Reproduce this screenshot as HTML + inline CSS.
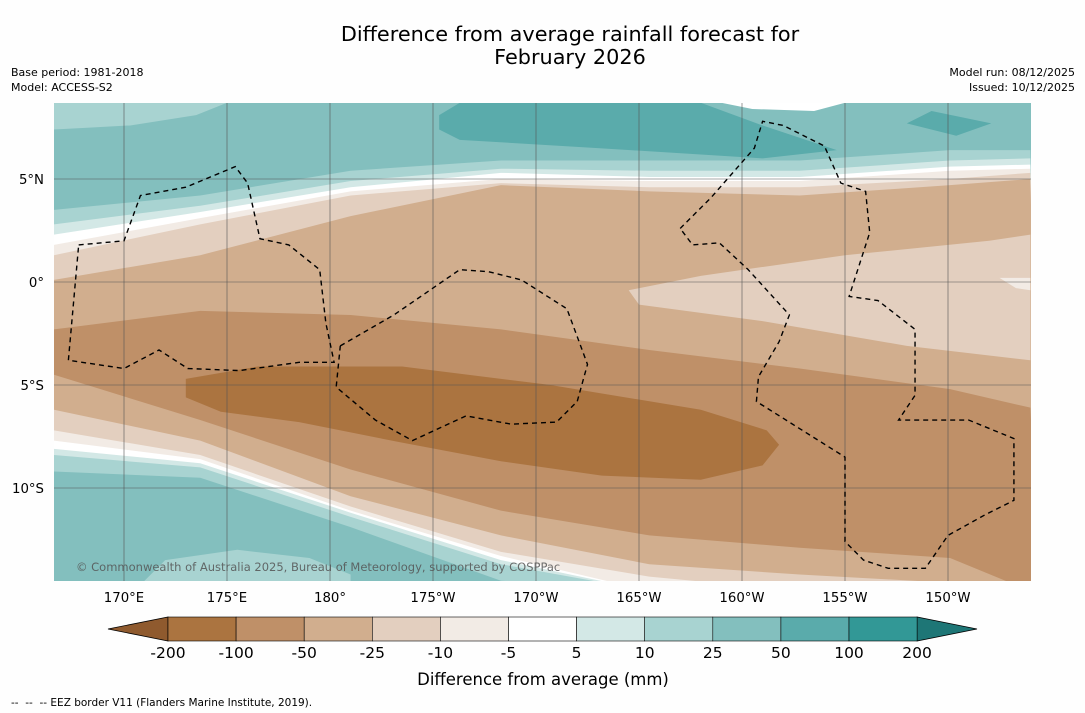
<!DOCTYPE html>
<html><head><meta charset="utf-8"><style>
body{margin:0;background:#fefefe;width:1085px;height:713px;overflow:hidden;font-family:"DejaVu Sans","Liberation Sans",sans-serif}
svg{position:absolute;left:0;top:0;font-family:"DejaVu Sans","Liberation Sans",sans-serif}
</style></head><body>
<svg width="1085" height="713" id="chart">
<text x="570" y="41" text-anchor="middle" font-size="20.8">Difference from average rainfall forecast for</text>
<text x="570" y="64" text-anchor="middle" font-size="20.8">February 2026</text>
<text x="11" y="76" font-size="11">Base period: 1981-2018</text>
<text x="11" y="91" font-size="11">Model: ACCESS-S2</text>
<text x="1075" y="76" font-size="11" text-anchor="end">Model run: 08/12/2025</text>
<text x="1075" y="91" font-size="11" text-anchor="end">Issued: 10/12/2025</text>
<defs><clipPath id="mc"><rect x="54" y="103" width="977" height="478"/></clipPath></defs>
<g id="map" clip-path="url(#mc)"></g>
<g id="axes"></g>
<g id="cbar"></g>
<text x="543" y="685" text-anchor="middle" font-size="16.5">Difference from average (mm)</text>
<text x="11" y="706" font-size="10.5">-- &nbsp;-- &nbsp;-- EEZ border V11 (Flanders Marine Institute, 2019).</text>
</svg>
<script>
const NS="http://www.w3.org/2000/svg";
// data
const lonCols=[166.6,173.7,181,188.3,195.5,202.8,210.1,214];
const bandColors=["#83bfbe","#a8d3d1","#d3e8e6","#ffffff","#f2ebe5","#e3cfbf","#d1ae8e","#bf9068","#d1ae8e","#e3cfbf","#f2ebe5","#ffffff","#d3e8e6","#a8d3d1","#83bfbe"];
const boundaries=[
[3.5,4.2,5.4,5.9,5.9,5.9,6.4,6.4],
[2.8,3.7,4.9,5.5,5.4,5.4,5.9,6.0],
[2.3,3.4,4.6,5.3,5.1,5.1,5.6,5.7],
[1.8,3.1,4.4,5.0,4.9,4.9,5.4,5.5],
[1.3,2.8,4.2,4.8,4.6,4.6,5.0,5.3],
[0.1,1.3,3.2,4.7,4.4,4.2,4.7,5.0],
[-2.3,-1.4,-1.6,-2.3,-3.3,-4.2,-5.2,-6.1],
[-4.5,-6.7,-9.1,-11.1,-12.3,-12.9,-13.4,-15],
[-6.2,-7.7,-10.4,-12.3,-13.7,-14.2,-14.6,-15],
[-7.2,-8.4,-10.9,-13.1,-14.3,-15,-15,-15],
[-7.7,-8.6,-11.1,-13.3,-15,-15,-15,-15],
[-8.1,-8.8,-11.2,-13.5,-15,-15,-15,-15],
[-8.4,-9,-11.4,-13.7,-15,-15,-15,-15],
[-9.2,-9.5,-11.9,-14.5,-15,-15,-15,-15]];
const xTicks=[170,175,180,185,190,195,200,205,210];
const xTickLabels=["170°E","175°E","180°","175°W","170°W","165°W","160°W","155°W","150°W"];
const yTicks=[5,0,-5,-10];
const yTickLabels=["5°N","0°","5°S","10°S"];
const cbColors=["#ab7440","#bf9068","#d1ae8e","#e3cfbf","#f2ebe5","#ffffff","#d3e8e6","#a8d3d1","#83bfbe","#5aabab","#329896"];
const cbLabels=["-200","-100","-50","-25","-10","-5","5","10","25","50","100","200"];
// axes functions
const X=l=>124+(l-170)*20.6;
const Y=l=>282-l*20.6;
function el(t,a,p){const e=document.createElementNS(NS,t);for(const k in a)e.setAttribute(k,a[k]);(p||document.getElementById('map')).appendChild(e);return e;}
el('rect',{x:54,y:103,width:977,height:478,fill:bandColors[0]});
for(let i=0;i<boundaries.length;i++){
  const top=boundaries[i];
  let pts=top.map((v,j)=>X(lonCols[j])+","+Y(v));
  pts.push("1040,600","40,600");
  const p=el('polygon',{points:pts.join(" "),fill:bandColors[i+1]});
  
  
}
function poly(ptsLL,fill,name){const p=el('polygon',{points:ptsLL.map(q=>X(q[0])+","+Y(q[1])).join(" "),fill:fill});

}
poly([[166.6,8.7],[175,8.7],[173.5,8.1],[170.3,7.6],[166.6,7.4]],"#a8d3d1","top-left-light-patch");
poly([[185.3,8.1],[186.3,8.7],[198,8.7],[201,7.6],[204.6,6.4],[201,6.0],[193,6.5],[186.3,6.9],[185.3,7.4]],"#5aabab","top-dark-patch");
poly([[208,7.7],[209.2,8.3],[212.1,7.7],[210.4,7.1]],"#5aabab","top-right-dark-patch");
poly([[199,8.7],[205,8.7],[203.5,8.3],[200.5,8.4]],"#ffffff","top-white-patch");
poly([[194.5,-0.4],[198,0.3],[205,1.3],[212,2.0],[214,2.3],[214,-3.8],[208,-3.1],[201,-1.9],[195,-1.1]],"#e3cfbf","mid-right-light-wedge");
poly([[212.5,0.2],[214,0.2],[214,-0.4],[213.3,-0.3]],"#f2ebe5","right-white-patch");
poly([[173,-4.7],[176.5,-4.1],[183.5,-4.1],[190.7,-5],[198,-6.2],[201.2,-7.2],[201.8,-7.9],[201,-8.9],[198,-9.6],[193.2,-9.4],[188.3,-8.7],[183.5,-7.8],[178.5,-6.8],[174.7,-6.3],[173,-5.6]],"#ab7440","dark-brown-blob");
poly([[170.5,-15],[172,-13.5],[175.5,-13],[179,-13.4],[181,-14.2],[181,-15]],"#a8d3d1","bottom-left-light-patch");
// grid
xTicks.forEach(t=>{el('line',{x1:X(t),x2:X(t),y1:103,y2:581,stroke:"#555","stroke-width":0.6});});
yTicks.forEach(t=>{el('line',{x1:54,x2:1031,y1:Y(t),y2:Y(t),stroke:"#555","stroke-width":0.6});});
// EEZ borders
const eez=[
[[167.8,1.8],[170,2],[170.8,4.2],[173,4.6],[175.4,5.6],[176,4.8],[176.6,2.1],[178,1.8],[179.5,0.6],[179.8,-2],[180.2,-3.9],[178.5,-3.9],[175.6,-4.3],[173.1,-4.2],[171.7,-3.3],[170,-4.2],[167.3,-3.8],[167.8,1.8]],
[[180.5,-3.1],[183.1,-1.6],[186.3,0.6],[187.7,0.5],[189.3,0.1],[191.5,-1.3],[192.5,-4],[192,-5.8],[191,-6.8],[188.8,-6.9],[186.6,-6.5],[184,-7.7],[182.2,-6.7],[180.3,-5.1],[180.5,-3.1]],
[[197,2.6],[198.5,4.1],[200.6,6.5],[201,7.8],[202,7.6],[204,6.6],[204.8,4.8],[206,4.4],[206.2,2.4],[205.2,-0.7],[206.6,-0.9],[208.4,-2.3],[208.4,-5.5],[207.6,-6.7],[208.8,-6.7],[211,-6.7],[213.2,-7.6],[213.2,-10.6],[211.8,-11.3],[210,-12.3],[208.9,-13.9],[207.1,-13.9],[205.9,-13.5],[205,-12.6],[205,-11.6],[205,-8.5],[200.7,-5.8],[200.8,-4.6],[201.8,-2.9],[202.3,-1.6],[200.3,0.6],[198.9,1.9],[197.6,1.8],[197,2.6]]];
eez.forEach((ln,i)=>{const p=el('polyline',{points:ln.map(q=>X(q[0])+","+Y(q[1])).join(" "),fill:"none",stroke:"#000","stroke-width":1.4,"stroke-dasharray":"5,4"});

});
const wm=el('text',{x:76,y:571,"font-size":11.5,fill:"#555",opacity:0.85});wm.textContent="© Commonwealth of Australia 2025, Bureau of Meteorology, supported by COSPPac";


const ax=document.getElementById('axes');
xTicks.forEach((t,i)=>{const e=el('text',{x:X(t),y:602,"font-size":13.3,"text-anchor":"middle"},ax);e.textContent=xTickLabels[i];

});
yTicks.forEach((t,i)=>{const e=el('text',{x:44,y:Y(t)+5,"font-size":13.3,"text-anchor":"end"},ax);e.textContent=yTickLabels[i];

});
const cb=document.getElementById('cbar');const w=68.1,x0=168,y0=617,h=24;
el('polygon',{points:`${x0},${y0} ${x0},${y0+h} 108,${y0+h/2}`,fill:"#8f5a2e",stroke:"#000","stroke-width":0.8},cb);
el('polygon',{points:`${x0+11*w},${y0} ${x0+11*w},${y0+h} 977,${y0+h/2}`,fill:"#1e7676",stroke:"#000","stroke-width":0.8},cb);
cbColors.forEach((c,i)=>{const r=el('rect',{x:x0+i*w,y:y0,width:w,height:h,fill:c,stroke:"#000","stroke-width":0.6},cb);

});
cbLabels.forEach((s,i)=>{const e=el('text',{x:x0+i*w,y:658,"font-size":15.5,"text-anchor":"middle"},cb);e.textContent=s;

});
</script>
</body></html>
